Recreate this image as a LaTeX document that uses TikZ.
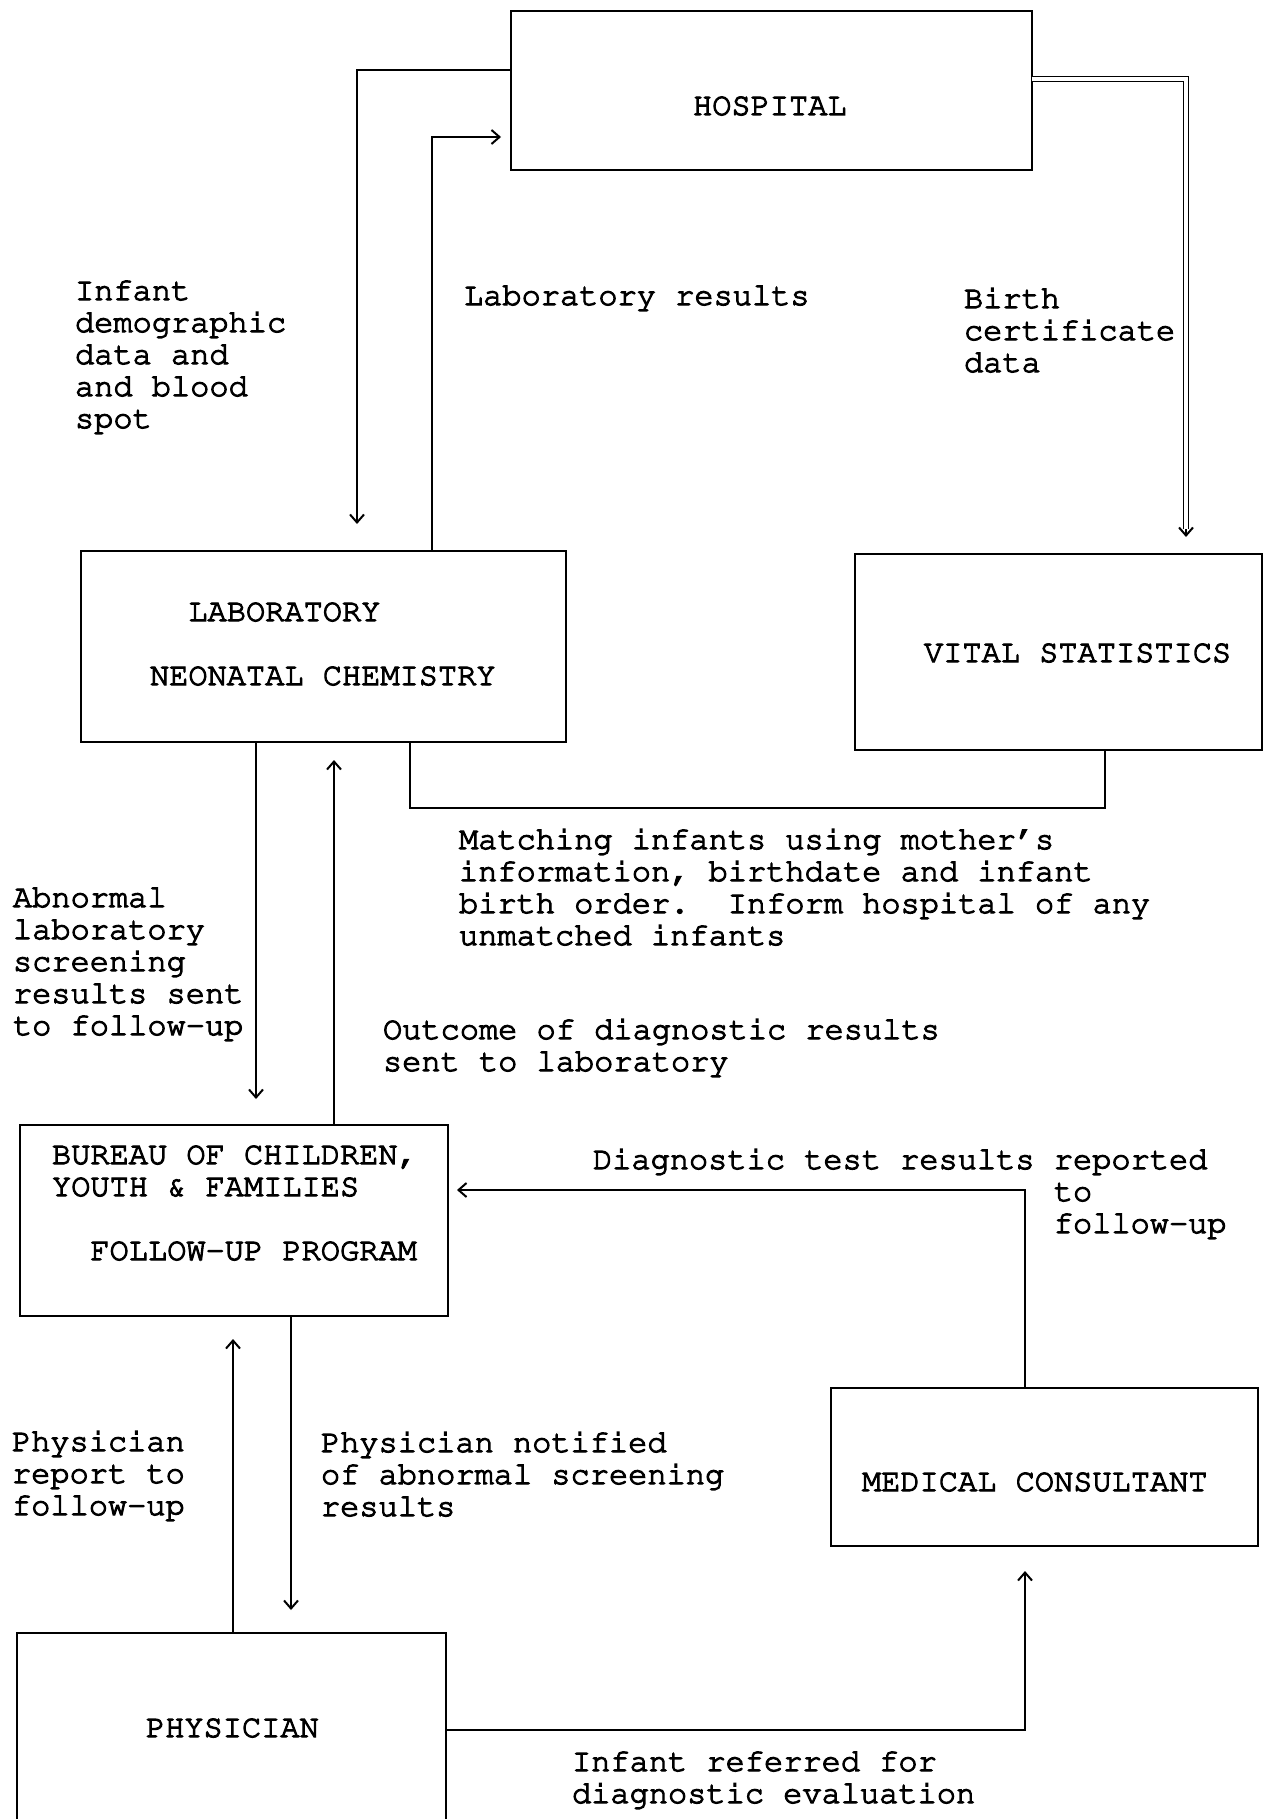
\documentclass[tikz,border=0pt]{standalone}
\usepackage[T1]{fontenc}
\usepackage{courier}
\usetikzlibrary{arrows.meta}
\newcommand\mystrut{\rule{0pt}{12pt}}
\newcommand\heavytext{\special{pdf:literal 2 Tr 0.55 w}}
\tikzset{
  ln/.style={line width=0.9pt, line join=miter},
  arr/.style={ln, -{Straight Barb[length=4pt,width=7pt,line width=1pt]}},
  dbl/.style={line width=0.8pt, double, double distance=1.7pt},
  box/.style={draw, line width=0.9pt, inner sep=0pt, outer sep=0pt},
  txt/.style={anchor=north west, inner sep=0pt, outer sep=0pt, align=left,
              font=\ttfamily\fontsize{16pt}{16pt}\selectfont\heavytext},
}
\begin{document}
\begin{tikzpicture}[x=0.5pt, y=-0.5pt]
\useasboundingbox (0,0) rectangle (1264,1819);
\clip (0,0) rectangle (1264,1819);
\fill[white] (0,0) rectangle (1264,1819);

% boxes
\node[box, minimum width=260.5pt, minimum height=79.5pt] (hosp) at (771.5,90.5) {};
\node[box, minimum width=242.5pt, minimum height=95.5pt] (lab) at (323.5,646.5) {};
\node[box, minimum width=203.5pt, minimum height=98pt] (vital) at (1058.5,652) {};
\node[box, minimum width=214pt, minimum height=95.5pt] (bur) at (234,1220.5) {};
\node[box, minimum width=213.5pt, minimum height=79pt] (mc) at (1044.5,1467) {};
\node[box, minimum width=214.5pt, minimum height=108.5pt] (phys) at (231.5,1741.5) {};

% box texts
\node[txt] (thosp) at (693,91) {\mystrut HOSPITAL};
\node[txt] (tlab) at (150,597) {\mystrut\phantom{XX}LABORATORY\\[16pt]NEONATAL CHEMISTRY};
\node[txt] (tvital) at (924,638) {\mystrut VITAL STATISTICS};
\node[txt] (tbur) at (52,1140) {\mystrut BUREAU OF CHILDREN,\\YOUTH \& FAMILIES\\[16pt]\phantom{XX}FOLLOW-UP PROGRAM};
\node[txt] (tmc) at (862,1467) {\mystrut MEDICAL CONSULTANT};
\node[txt] (tphys) at (146,1713) {\mystrut PHYSICIAN};

% labels
\node[txt] (l1) at (75,276) {\mystrut Infant\\demographic\\data and\\and blood\\spot};
\node[txt] (l2) at (464,281) {\mystrut Laboratory results};
\node[txt] (l3) at (964,284) {\mystrut Birth\\certificate\\data};
\node[txt] (l4) at (459,825) {\mystrut Matching infants using mother's\\information, birthdate and infant\\birth order.\ \ Inform hospital of any\\unmatched infants};
\node[txt] (l5) at (13,883) {\mystrut Abnormal\\laboratory\\screening\\results sent\\to follow-up};
\node[txt] (l6) at (383,1015) {\mystrut Outcome of diagnostic results\\sent to laboratory};
\node[txt] (l7) at (593,1145) {\mystrut Diagnostic test results reported\\\phantom{Diagnostic test results }to\\\phantom{Diagnostic test results }follow-up};
\node[txt] (l8) at (12,1427) {\mystrut Physician\\report to\\follow-up};
\node[txt] (l9) at (321,1428) {\mystrut Physician notified\\of abnormal screening\\results};
\node[txt] (l10) at (572,1747) {\mystrut Infant referred for\\diagnostic evaluation};

% connectors
\coordinate (hA) at (357,70);
\coordinate (hAend) at (357,524);
\draw[arr] (hosp.west |- hA) -- (hA) -- (hAend);

\coordinate (lB) at (432,137);
\coordinate (lBend) at (501,137);
\draw[arr] (lab.north -| lB) -- (lB) -- (lBend);

\coordinate (hC) at (1186,79);
\coordinate (hCend) at (1186,529);
\draw[dbl] (hosp.east |- hC) -- (hC) -- (hCend);
\draw[arr] (hCend) -- ++(0,8);

\coordinate (d1) at (410,808);
\coordinate (d2) at (1105,808);
\draw[ln] (lab.south -| d1) -- (d1) -- (d2) -- (vital.south -| d2);

\coordinate (eEnd) at (256,1099);
\draw[arr] (lab.south -| eEnd) -- (eEnd);

\coordinate (fEnd) at (334,760);
\draw[arr] (bur.north -| fEnd) -- (fEnd);

\coordinate (g1) at (1025,1190);
\coordinate (gEnd) at (457,1190);
\draw[arr] (mc.north -| g1) -- (g1) -- (gEnd);

\coordinate (hEnd) at (291,1610);
\draw[arr] (bur.south -| hEnd) -- (hEnd);

\coordinate (iEnd) at (233,1339);
\draw[arr] (phys.north -| iEnd) -- (iEnd);

\coordinate (j1) at (1025,1730);
\coordinate (jEnd) at (1025,1571);
\draw[arr] (phys.east |- j1) -- (j1) -- (jEnd);
\end{tikzpicture}
\end{document}
